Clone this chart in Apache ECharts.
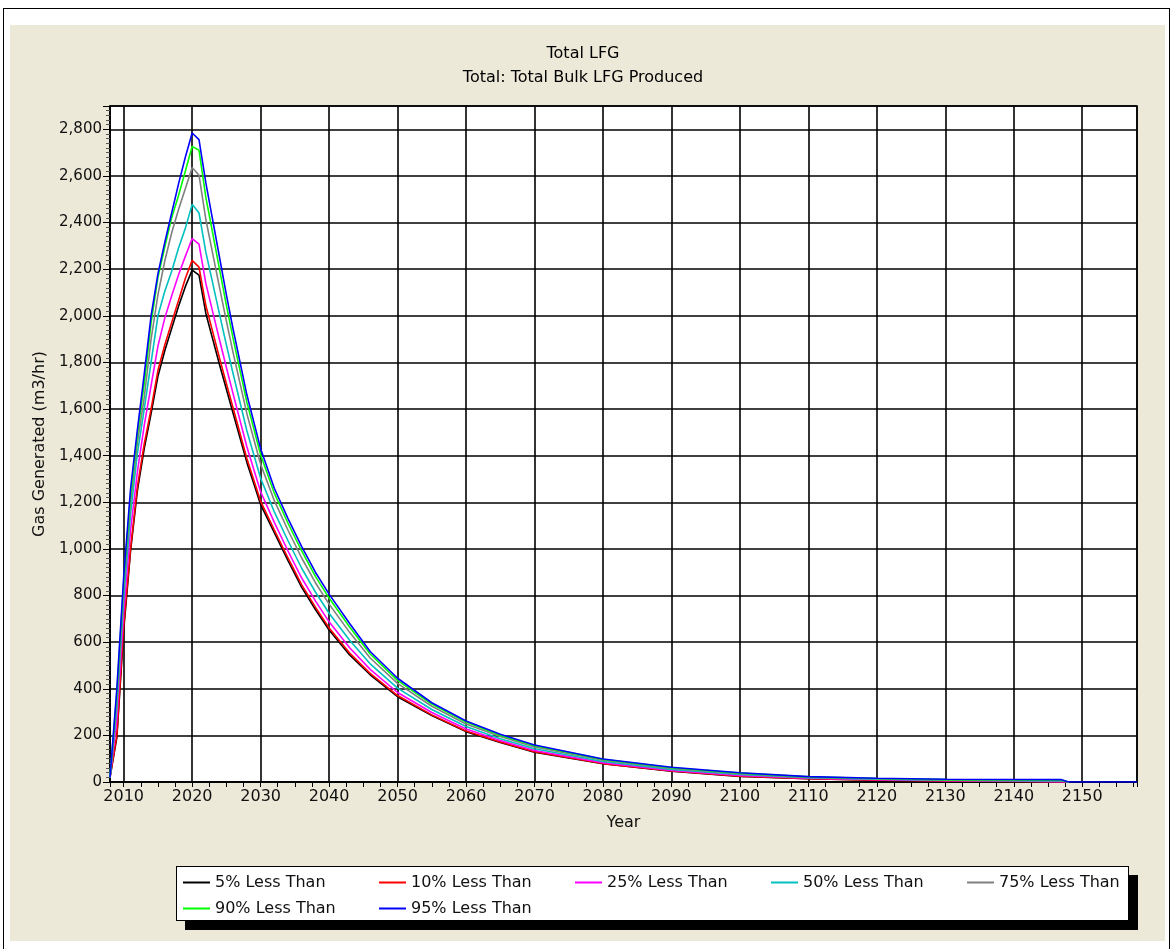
<!DOCTYPE html>
<html>
<head>
<meta charset="utf-8">
<title>Total LFG</title>
<script src="https://cdn.jsdelivr.net/npm/echarts@6/dist/echarts.min.js"></script>
<style>
html, body { margin: 0; padding: 0; background: #fff; }
#wrap { position: relative; width: 1173px; height: 949px; overflow: hidden; }
#frame { position: absolute; left: 3px; top: 8px; width: 1165px; height: 960px; border: 1px solid #000; }
#panel { position: absolute; left: 10px; top: 25px; width: 1155px; height: 916px; background: #ECE9D8; }
#legShadow { position: absolute; left: 185px; top: 875px; width: 953px; height: 55px; background: #000; }
#legBox { position: absolute; left: 176px; top: 866px; width: 951px; height: 53px; background: #fff; border: 1px solid #000; }
#main { position: absolute; left: 0; top: 0; width: 1173px; height: 949px; }
</style>
</head>
<body>
<div id="wrap">
	<div id="frame"></div>
	<div id="panel"></div>
	<div id="legShadow"></div>
	<div id="legBox"></div>
	<div id="main"></div>
</div>
<script>
// years (yearly on the rise, sparser on the smooth decay)
var years = [2008,2009,2010,2011,2012,2013,2014,2015,2016,2017,2018,2019,2020,2021,
	2022,2023,2024,2025,2026,2028,2030,2032,2034,2036,2038,2040,2043,2046,2050,2055,
	2060,2065,2070,2080,2090,2100,2110,2120,2130,2140,2147,2148,2158];

// gas generated (m3/hr) for each percentile
var p5  = [20,190,650,990,1250,1430,1580,1740,1850,1945,2040,2125,2196,2174,
	2010,1900,1790,1685,1580,1370,1190,1070,950,835,740,652,545,460,366,285,
	216,170,128,78,46,24,14,8,5,2,0,0,null];
var p10 = [20,200,670,1000,1267,1450,1600,1765,1875,1970,2065,2160,2238,2209,
	2044,1931,1818,1709,1602,1387,1204,1081,961,846,750,661,553,466,371,288,
	219,172,130,79,47,25,14,8,5,2,0,0,null];
var p25 = [20,270,730,1080,1330,1530,1700,1870,1990,2085,2175,2255,2331,2307,
	2139,2017,1896,1778,1663,1437,1245,1114,991,875,777,687,576,483,384,298,
	227,178,135,83,50,28,16,10,6,4,0,0,null];
var p50 = [20,320,790,1150,1410,1600,1800,2000,2105,2190,2290,2375,2478,2441,
	2273,2140,2006,1875,1749,1506,1303,1159,1035,917,815,724,608,507,403,311,
	238,186,143,88,54,32,18,12,8,6,4,0,null];
var p75 = [20,350,830,1200,1455,1650,1900,2090,2235,2355,2455,2545,2636,2603,
	2413,2267,2121,1977,1839,1579,1363,1207,1080,961,855,763,642,532,423,325,
	249,195,150,93,58,36,20,14,9,8,6,0,null];
var p90 = [20,380,860,1230,1490,1710,1970,2165,2295,2420,2515,2620,2727,2710,
	2508,2354,2199,2045,1900,1628,1404,1239,1110,991,882,789,665,549,436,334,
	257,201,156,97,61,38,22,15,10,9,8,0,null];
var p95 = [20,400,880,1257,1511,1750,2000,2180,2315,2440,2565,2680,2784,2756,
	2570,2410,2250,2090,1940,1660,1430,1260,1130,1010,900,806,680,560,445,340,
	262,205,159,99,63,40,23,16,12,11,10,0,0];

var names  = ['5% Less Than','10% Less Than','25% Less Than','50% Less Than','75% Less Than','90% Less Than','95% Less Than'];
var colors = ['#000000','#ff0000','#ff00ff','#00c0c0','#808080','#00ff00','#0000ff'];
var values = [p5, p10, p25, p50, p75, p90, p95];

var font = 'DejaVu Sans';

var myChart = echarts.init(document.getElementById('main'), null, {renderer: 'canvas'});

var series = [];
for (var i = 0; i < names.length; i++) {
	var pts = [];
	for (var j = 0; j < years.length; j++) {
		pts.push([years[j], values[i][j]]);
	}
	series.push({
		name: names[i],
		type: 'line',
		data: pts,
		symbol: 'none',
		showSymbol: false,
		color: colors[i],
		lineStyle: {color: colors[i], width: 1.6},
		emphasis: {disabled: true}
	});
}

var option = {
	animation: false,
	title: {
		text: 'Total LFG',
		subtext: 'Total: Total Bulk LFG Produced',
		left: 583,
		top: 46,
		padding: 0,
		textAlign: 'center',
		itemGap: 8,
		textStyle: {fontFamily: font, fontSize: 16, fontWeight: 'normal', color: '#000'},
		subtextStyle: {fontFamily: font, fontSize: 16, color: '#000'}
	},
	legend: {
		data: names,
		left: 183,
		top: 873,
		width: 1000,
		padding: 0,
		icon: 'rect',
		itemWidth: 27,
		itemHeight: 2,
		itemGap: 7,
		selectedMode: false,
		textStyle: {fontFamily: font, fontSize: 16, color: '#111', width: 157, lineHeight: 19}
	},
	grid: {
		left: 110, right: 36, top: 106, bottom: 167,
		show: true,
		backgroundColor: '#fff',
		borderColor: '#000',
		borderWidth: 1.5
	},
	xAxis: {
		type: 'value',
		min: 2008,
		max: 2158,
		splitNumber: 15,
		name: 'Year',
		nameLocation: 'middle',
		nameGap: 33,
		nameTextStyle: {fontFamily: font, fontSize: 16, color: '#111'},
		axisLine: {show: true, lineStyle: {color: '#000', width: 1.5}},
		axisTick: {show: true, length: 5, lineStyle: {color: '#000'}},
		minorTick: {show: true, splitNumber: 4, length: 5, lineStyle: {color: '#000'}},
		axisLabel: {
			margin: 7, fontFamily: font, fontSize: 16, color: '#111',
			showMinLabel: false, showMaxLabel: false,
			formatter: function (v) { return String(v); }
		},
		splitLine: {show: true, lineStyle: {color: '#000', width: 1.6}}
	},
	yAxis: {
		type: 'value',
		min: 0,
		max: 2900,
		interval: 200,
		name: 'Gas Generated (m3/hr)',
		nameLocation: 'middle',
		nameGap: 61,
		nameTextStyle: {fontFamily: font, fontSize: 16, color: '#111'},
		axisLine: {show: true, lineStyle: {color: '#000', width: 1.5}},
		axisTick: {show: true, length: 7, lineStyle: {color: '#000'}},
		minorTick: {show: true, splitNumber: 10, length: 4, lineStyle: {color: '#555'}},
		axisLabel: {
			margin: 8, fontFamily: font, fontSize: 15, color: '#111',
			showMaxLabel: false,
			formatter: function (v) { return v.toLocaleString('en-US'); }
		},
		splitLine: {show: true, lineStyle: {color: '#000', width: 1.6}}
	},
	series: series
};

myChart.setOption(option);
</script>
</body>
</html>
